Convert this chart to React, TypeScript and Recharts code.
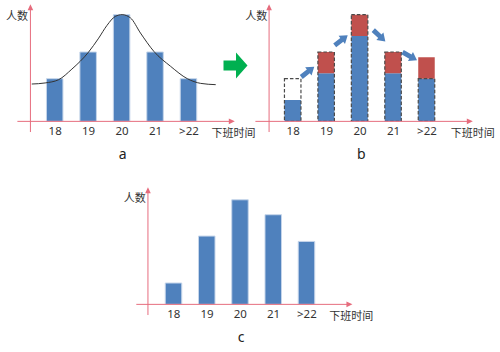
import React from 'react';
import { ComposedChart, Bar, Line, XAxis, YAxis, ReferenceLine, ReferenceDot } from 'recharts';

// ---- data ----
const categories = ['18', '19', '20', '21', '>22'];
const positions = [0, 1, 2, 3, 4];
const aCounts = [2, 3.25, 5, 3.25, 2];
const curveX = [-0.7, -0.3, 0.1, 0.5, 1.0, 1.3, 1.55, 1.8, 2.0, 2.25, 2.55, 2.95, 3.45, 3.95, 4.35, 4.8];
const curveY = [1.75, 1.8, 1.95, 2.45, 3.25, 3.9, 4.5, 4.92, 5.0, 4.85, 4.14, 3.28, 2.58, 2.0, 1.78, 1.72];
const bBlue = [1, 2.25, 4, 2.25, 2];
const bRed = [0, 1, 1, 1, 1];
const bOutline = [2, 3.25, 5, 3.25, 2];
const cCounts = [1, 3.2, 4.9, 4.2, 2.95];
const shiftX = [0.43, 1.43, 2.57, 3.48];
const shiftY = [2.31, 3.79, 4.02, 3.06];
const shiftAngle = [-38, -38, 43, 29];

const aData = positions.map((p, k) => ({ i: p, v: aCounts[k] }));
const curveData = curveX.map((x, k) => ({ i: x, c: curveY[k] }));
const bData = positions.map((p, k) => ({ i: p, blue: bBlue[k], red: bRed[k], orig: bOutline[k] }));
const cData = positions.map((p, k) => ({ i: p, v: cCounts[k] }));

// ---- style ----
const FONT = '"Noto Sans", "Noto Sans CJK SC", sans-serif';
const BLUE = '#4F81BD';
const RED = '#C0504D';
const AXIS = '#E66C7D';
const TEXT = '#333333';
const U = 21.34;
const Y_MAX = 5.5;
const XH = 30;
const X_LO = -1.5;
const X_HI = 5.5;

const TriUp = (p: any) => (
  <polygon points={`${p.cx},${p.cy - 1} ${p.cx - 2.8},${p.cy + 5} ${p.cx + 2.8},${p.cy + 5}`} fill={AXIS} />
);
const TriRight = (p: any) => (
  <polygon points={`${p.cx + 1},${p.cy} ${p.cx - 5},${p.cy - 2.8} ${p.cx - 5},${p.cy + 2.8}`} fill={AXIS} />
);

const BlockArrow = ({ cx, cy, angle }: { cx: number; cy: number; angle: number }) => (
  <polygon
    transform={`translate(${cx},${cy}) rotate(${angle})`}
    points="-8,-2.4 1,-2.4 1,-5.2 8.5,0 1,5.2 1,2.4 -8,2.4"
    fill={BLUE}
  />
);

type PanelProps = { cx0: number; oy: number; s: number; yAt: number; data: any[]; children?: React.ReactNode; extraAxis?: boolean };

function Panel({ cx0, oy, s, yAt, data, children, extraAxis }: PanelProps) {
  const plotH = Y_MAX * U;
  const width = (X_HI - X_LO) * s;
  const height = plotH + XH;
  const left = cx0 + X_LO * s;
  const top = oy - plotH;
  return (
    <div style={{ position: 'absolute', left, top, width, height }}>
      <ComposedChart width={width} height={height} data={data} margin={{ top: 0, right: 0, bottom: 0, left: 0 }} style={{ fontFamily: FONT }}>
        <XAxis
          type="number"
          dataKey="i"
          domain={[X_LO, X_HI]}
          allowDataOverflow
          ticks={positions}
          interval={0}
          tickFormatter={(v: number) => categories[v] ?? ''}
          axisLine={false}
          tickLine={false}
          tickSize={0}
          tickMargin={5.2}
          height={XH}
          tick={{ fontSize: 11.5, fill: TEXT, fontFamily: FONT }}
        />
        {extraAxis ? <XAxis xAxisId="o" type="number" dataKey="i" domain={[X_LO, X_HI]} allowDataOverflow hide /> : null}
        <YAxis type="number" domain={[0, Y_MAX]} allowDataOverflow hide />
        {children}
        <ReferenceLine segment={[{ x: -1.13, y: 0 }, { x: 5.3, y: 0 }]} stroke={AXIS} strokeWidth={1} ifOverflow="visible" />
        <ReferenceLine segment={[{ x: yAt, y: -0.5 }, { x: yAt, y: 5.4 }]} stroke={AXIS} strokeWidth={1} ifOverflow="visible" />
        <ReferenceDot x={yAt} y={5.44} r={3} shape={TriUp} ifOverflow="visible" />
        <ReferenceDot x={5.34} y={0} r={3} shape={TriRight} ifOverflow="visible" />
      </ComposedChart>
    </div>
  );
}

export default function App() {
  const panels = [
    { ox: 30, oy: 121.7, cx0: 54.7, s: 33.45, letter: 'a' },
    { ox: 269.3, oy: 121.7, cx0: 293.5, s: 33.45, letter: 'b' },
    { ox: 147.7, oy: 304, cx0: 173.7, s: 33.25, letter: 'c' },
  ];
  return (
    <div style={{ position: 'absolute', left: 0, top: 0, width: 500, height: 352, background: '#fff', overflow: 'hidden' }}>
      <Panel cx0={54.7} oy={121.7} s={33.45} yAt={-0.74} data={aData} extraAxis>
        <Bar dataKey="v" fill={BLUE} stroke="#C5D5EA" strokeWidth={1} barSize={16.5} isAnimationActive={false} />
        <Line xAxisId="o" data={curveData} dataKey="c" type="monotone" stroke="#333" strokeWidth={1} dot={false} isAnimationActive={false} />
      </Panel>
      <Panel cx0={293.5} oy={121.7} s={33.45} yAt={-0.72} data={bData} extraAxis>
        <Bar dataKey="blue" stackId="s" fill={BLUE} barSize={16.5} isAnimationActive={false} />
        <Bar dataKey="red" stackId="s" fill={RED} barSize={16.5} isAnimationActive={false} />
        <Bar xAxisId="o" dataKey="orig" fill="none" stroke="#4a4a4a" strokeWidth={1.2} strokeDasharray="3.5 2" barSize={16.5} isAnimationActive={false} />
        {shiftX.map((x, k) => (
          <ReferenceDot
            key={k}
            x={x}
            y={shiftY[k]}
            r={4}
            ifOverflow="visible"
            shape={(p: any) => <BlockArrow cx={p.cx} cy={p.cy} angle={shiftAngle[k]} />}
          />
        ))}
      </Panel>
      <Panel cx0={173.7} oy={304} s={33.25} yAt={-0.78} data={cData}>
        <Bar dataKey="v" fill={BLUE} stroke="#C5D5EA" strokeWidth={1} barSize={16.5} isAnimationActive={false} />
      </Panel>
      <svg width={500} height={352} style={{ position: 'absolute', left: 0, top: 0, pointerEvents: 'none' }}>
        <polygon points="223.5,60.5 236,60.5 236,52.5 247.5,65.5 236,78.5 236,70.5 223.5,70.5" fill="#00B050" />
        {panels.map((p) => (
          <g key={p.letter} fontFamily={FONT} fill={TEXT}>
            <text x={p.ox - 24} y={p.oy - 101.8} fontSize={11}>人数</text>
            <text x={p.ox + 181.5} y={p.oy + 15.7} fontSize={11}>下班时间</text>
            <text x={p.cx0 + 2 * p.s + 1} y={p.oy + 37.6} fontSize={14} textAnchor="middle" fill="#222">{p.letter}</text>
          </g>
        ))}
      </svg>
    </div>
  );
}
